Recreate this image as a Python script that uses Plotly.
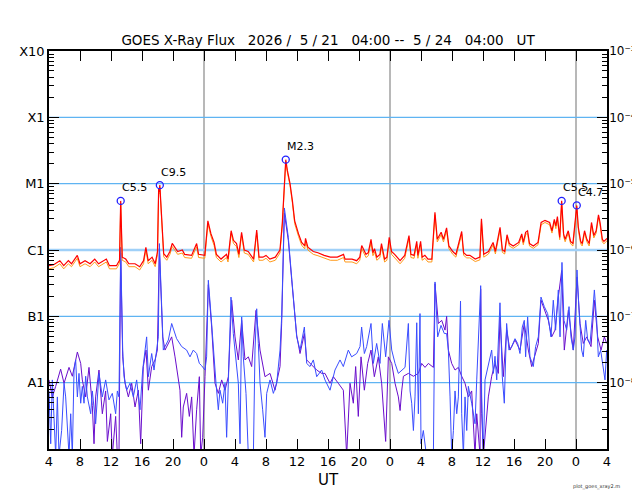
import math
import plotly.graph_objects as go

# GOES X-ray flux, 2026/5/21 04:00 -- 5/24 04:00 UT, x = hours from start

# long channel (1-8 A): primary (red) and secondary (orange), same sample hours
red_hours = [0.0, 0.6, 1.4, 1.9, 2.5, 2.9, 3.65, 4.0, 4.65, 5.3,
             5.9, 6.4, 7.4, 7.8, 8.7, 9.1, 9.25, 9.45, 9.9, 10.3,
             11.1, 11.7, 12.2, 12.5, 12.8, 13.3, 13.7, 14.0, 14.15, 14.2,
             14.3, 14.6, 14.8, 15.2, 15.6, 15.9, 16.2, 16.6, 17.2, 17.5,
             18.4, 19.05, 19.3, 20.1, 20.5, 20.9, 21.3, 21.6, 22.2, 22.5,
             22.9, 23.1, 23.5, 23.8, 24.2, 24.5, 24.85, 25.2, 25.7, 26.4,
             26.8, 27.1, 27.6, 28.0, 28.5, 29.2, 29.8, 30.1, 30.55, 30.75,
             31.1, 31.4, 31.7, 32.2, 32.6, 33.0, 33.1, 33.4, 34.1, 34.7,
             35.5, 36.3, 37.2, 38.0, 38.2, 39.1, 39.7, 40.1, 40.35, 40.9,
             41.2, 41.55, 41.8, 42.0, 42.3, 42.7, 42.9, 43.3, 43.6, 43.9,
             44.2, 44.6, 45.3, 45.9, 46.45, 46.7, 47.1, 47.45, 47.6, 47.95,
             48.15, 48.5, 48.9, 49.4, 49.8, 50.1, 50.6, 50.9, 51.3, 51.6,
             52.1, 52.5, 53.25, 53.5, 53.9, 54.3, 55.0, 55.6, 55.8, 56.1,
             56.7, 57.3, 57.6, 58.2, 58.5, 58.8, 59.1, 59.4, 59.9, 60.6,
             61.0, 61.2, 61.5, 61.75, 62.0, 62.5, 63.1, 63.5, 64.0, 64.6,
             64.9, 65.2, 65.4, 65.6, 65.9, 66.15, 66.4, 66.6, 67.0, 67.3,
             67.6, 68.1, 68.3, 68.6, 68.8, 69.1, 69.4, 69.7, 70.0, 70.3,
             70.6, 70.9, 71.1, 71.4, 71.6, 72.0]
red_flux = [5.8e-7, 6.0e-7, 6.9e-7, 5.8e-7, 6.9e-7, 6.2e-7, 8.3e-7, 6.2e-7, 6.9e-7, 6.2e-7,
            7.3e-7, 6.2e-7, 7.3e-7, 5.8e-7, 5.8e-7, 7.0e-7, 5.5e-6, 7.8e-7, 7.3e-7, 6.2e-7,
            6.2e-7, 5.6e-7, 6.9e-7, 1.1e-6, 6.9e-7, 7.8e-7, 6.2e-7, 9.5e-7, 8.5e-6, 7.5e-6,
            9.5e-6, 1.8e-6, 8.8e-7, 7.8e-7, 9.5e-7, 1.26e-6, 1.1e-6, 9.5e-7, 1.0e-6, 8.6e-7,
            8.3e-7, 1.25e-6, 8.6e-7, 8.3e-7, 2.75e-6, 1.75e-6, 1.3e-6, 8.6e-7, 7.3e-7, 7.8e-7,
            8.6e-7, 7.3e-7, 1.95e-6, 1.4e-6, 1.25e-6, 8.6e-7, 1.85e-6, 1.0e-6, 9.5e-7, 7.3e-7,
            2.0e-6, 7.8e-7, 7.8e-7, 8.3e-7, 7.3e-7, 7.8e-7, 1.0e-6, 2.5e-6, 2.3e-5, 1.6e-5,
            1.0e-5, 5.6e-6, 2.75e-6, 1.75e-6, 1.3e-6, 1.15e-6, 1.5e-6, 1.1e-6, 9.5e-7, 9.1e-7,
            8.3e-7, 7.8e-7, 7.8e-7, 8.6e-7, 7.3e-7, 7.3e-7, 6.9e-7, 7.8e-7, 1.17e-6, 8.6e-7,
            9.1e-7, 1.45e-6, 9.1e-7, 1.05e-6, 7.8e-7, 8.6e-7, 1.25e-6, 7.3e-7, 7.8e-7, 1.55e-6,
            9.5e-7, 8.6e-7, 6.9e-7, 8.3e-7, 1.65e-6, 8.6e-7, 8.3e-7, 1.35e-6, 8.3e-7, 1.35e-6,
            7.8e-7, 8.3e-7, 7.3e-7, 7.3e-7, 3.7e-6, 1.45e-6, 1.85e-6, 1.45e-6, 2.15e-6, 1.15e-6,
            9.5e-7, 8.6e-7, 1.9e-6, 9.1e-7, 8.3e-7, 8.3e-7, 7.3e-7, 7.8e-7, 2.95e-6, 8.6e-7,
            9.5e-7, 1.3e-6, 9.5e-7, 2.2e-6, 1.0e-6, 9.5e-7, 1.7e-6, 1.25e-6, 1.15e-6, 1.3e-6,
            1.75e-6, 1.3e-6, 1.85e-6, 1.95e-6, 1.25e-6, 1.15e-6, 1.3e-6, 2.6e-6, 2.8e-6, 2.6e-6,
            1.95e-6, 2.9e-6, 2.3e-6, 3.2e-6, 1.55e-6, 5.5e-6, 1.75e-6, 1.45e-6, 1.95e-6, 1.35e-6,
            1.25e-6, 4.7e-6, 2.2e-6, 1.35e-6, 1.25e-6, 1.95e-6, 1.45e-6, 1.25e-6, 2.6e-6, 1.65e-6,
            1.95e-6, 3.4e-6, 2.6e-6, 1.45e-6, 1.35e-6, 1.5e-6]
orange_flux = [5.2e-7, 5.4e-7, 6.2e-7, 5.2e-7, 6.2e-7, 5.6e-7, 7.5e-7, 5.6e-7, 6.2e-7, 5.6e-7,
               6.6e-7, 5.6e-7, 6.6e-7, 5.2e-7, 5.2e-7, 6.3e-7, 5.1e-6, 7.0e-7, 6.6e-7, 5.6e-7,
               5.6e-7, 5.0e-7, 6.2e-7, 1.0e-6, 6.2e-7, 7.0e-7, 5.6e-7, 8.6e-7, 7.9e-6, 7.0e-6,
               8.9e-6, 1.65e-6, 7.9e-7, 7.0e-7, 8.6e-7, 1.13e-6, 9.9e-7, 8.6e-7, 9.0e-7, 7.7e-7,
               7.5e-7, 1.12e-6, 7.7e-7, 7.5e-7, 2.5e-6, 1.6e-6, 1.17e-6, 7.7e-7, 6.6e-7, 7.0e-7,
               7.7e-7, 6.6e-7, 1.78e-6, 1.26e-6, 1.12e-6, 7.7e-7, 1.68e-6, 9.0e-7, 8.6e-7, 6.6e-7,
               1.82e-6, 7.0e-7, 7.0e-7, 7.5e-7, 6.6e-7, 7.0e-7, 9.0e-7, 2.3e-6, 2.15e-5, 1.5e-5,
               9.4e-6, 5.2e-6, 2.5e-6, 1.6e-6, 1.18e-6, 1.04e-6, 1.36e-6, 1.0e-6, 8.6e-7, 8.2e-7,
               7.5e-7, 7.0e-7, 7.0e-7, 7.7e-7, 6.6e-7, 6.6e-7, 6.2e-7, 7.0e-7, 1.05e-6, 7.7e-7,
               8.2e-7, 1.3e-6, 8.2e-7, 9.4e-7, 7.0e-7, 7.7e-7, 1.12e-6, 6.6e-7, 7.0e-7, 1.4e-6,
               8.6e-7, 7.7e-7, 6.2e-7, 7.5e-7, 1.5e-6, 7.7e-7, 7.5e-7, 1.22e-6, 7.5e-7, 1.22e-6,
               7.0e-7, 7.5e-7, 6.6e-7, 6.6e-7, 3.4e-6, 1.32e-6, 1.7e-6, 1.32e-6, 1.96e-6, 1.05e-6,
               8.6e-7, 7.8e-7, 1.74e-6, 8.3e-7, 7.6e-7, 7.6e-7, 6.7e-7, 7.1e-7, 2.7e-6, 7.8e-7,
               8.7e-7, 1.19e-6, 8.7e-7, 2.0e-6, 9.2e-7, 8.7e-7, 1.56e-6, 1.15e-6, 1.06e-6, 1.2e-6,
               1.6e-6, 1.2e-6, 1.7e-6, 1.8e-6, 1.15e-6, 1.06e-6, 1.2e-6, 2.4e-6, 2.6e-6, 2.4e-6,
               1.8e-6, 2.7e-6, 2.1e-6, 2.95e-6, 1.43e-6, 5.1e-6, 1.6e-6, 1.33e-6, 1.8e-6, 1.24e-6,
               1.15e-6, 4.35e-6, 2.0e-6, 1.24e-6, 1.15e-6, 1.8e-6, 1.33e-6, 1.15e-6, 2.4e-6, 1.52e-6,
               1.8e-6, 3.1e-6, 2.4e-6, 1.33e-6, 1.24e-6, 1.38e-6]

# short channel (0.5-4 A), primary (blue); 8e-10 = below the bottom of the plot
blue_hours = [0.0, 0.22, 0.43, 0.65, 0.86, 1.08, 1.29, 1.63, 1.94, 2.15,
              2.37, 2.58, 2.8, 3.01, 3.23, 3.44, 3.66, 3.87, 4.09, 4.3,
              4.52, 4.73, 4.95, 5.38, 5.59, 5.81, 6.02, 6.45, 6.67, 6.88,
              7.31, 7.74, 8.17, 8.6, 8.82, 9.03, 9.25, 9.51, 9.68, 10.02,
              10.45, 10.88, 11.31, 11.74, 12.09, 12.39, 12.6, 12.82, 13.25, 13.55,
              13.89, 14.11, 14.24, 14.54, 14.75, 14.97, 15.4, 15.83, 16.04, 16.47,
              17.12, 17.76, 18.19, 18.62, 19.05, 19.4, 19.7, 20.13, 20.34, 20.56,
              20.86, 21.2, 21.55, 21.85, 22.06, 22.41, 22.71, 22.92, 23.27, 23.48,
              23.78, 24.13, 24.43, 24.65, 24.86, 25.07, 25.42, 25.72, 26.02, 26.37,
              26.58, 26.8, 27.01, 27.23, 27.57, 27.87, 28.09, 28.52, 28.95, 29.38,
              29.81, 30.02, 30.37, 30.88, 31.31, 31.65, 31.96, 32.39, 32.95, 33.25,
              33.68, 34.11, 34.54, 35.18, 35.61, 36.26, 36.9, 37.55, 37.98, 38.62,
              39.05, 39.7, 40.13, 40.34, 40.69, 40.99, 41.55, 41.85, 42.28, 42.71,
              43.01, 43.44, 43.87, 44.22, 44.65, 45.08, 45.51, 45.94, 46.37, 46.59,
              46.8, 47.02, 47.23, 47.45, 47.66, 47.87, 48.0, 48.3, 48.7, 49.2,
              49.6, 49.81, 50.15, 50.58, 51.01, 51.3, 51.53, 51.75, 51.96, 52.18,
              52.39, 52.61, 52.82, 53.1, 53.25, 53.47, 53.68, 53.9, 54.11, 54.54,
              54.97, 55.19, 55.7, 55.83, 56.05, 56.26, 56.69, 57.12, 57.34, 57.55,
              57.77, 57.98, 58.19, 58.49, 58.75, 59.05, 59.35, 59.7, 60.13, 60.47,
              60.77, 61.07, 61.33, 61.5, 61.76, 62.06, 62.49, 62.79, 63.14, 63.48,
              63.91, 64.34, 64.77, 65.07, 65.37, 65.72, 65.94, 66.19, 66.45, 66.8,
              67.1, 67.35, 67.65, 67.87, 68.13, 68.39, 68.73, 68.94, 69.25, 69.51,
              69.81, 70.11, 70.37, 70.67, 70.88, 71.18, 71.4, 71.74, 71.96]
blue_flux = [7.5e-9, 1.2e-9, 1.1e-8, 3.4e-9, 8e-10, 6.1e-9, 8e-10, 1.9e-9, 9.8e-9, 6.1e-9,
             2.4e-9, 8e-10, 3.4e-9, 8e-10, 1.55e-8, 2.2e-8, 6.1e-9, 1.38e-8, 4.9e-9, 8.8e-9,
             4.9e-9, 1.25e-8, 6.1e-9, 3.4e-9, 7.5e-9, 3.8e-9, 2.4e-9, 1.38e-8, 8.8e-9, 6.1e-9,
             1.1e-8, 5.5e-9, 6.9e-9, 3.4e-9, 7.5e-9, 6.1e-9, 1.1e-6, 3.1e-8, 1.23e-8, 7.7e-9,
             9.8e-9, 6.1e-9, 1.1e-8, 3.9e-9, 1.55e-8, 3.1e-8, 4.9e-8, 1.23e-8, 2.75e-8, 1.55e-8,
             3.1e-8, 4.9e-8, 1.25e-6, 9.8e-8, 3.1e-8, 3.5e-8, 4.4e-8, 7.8e-8, 6.5e-8, 4.6e-8,
             3.5e-8, 3.1e-8, 2.45e-8, 3.1e-8, 2.75e-8, 1.95e-8, 1.8e-8, 1.55e-8, 2.45e-8, 3.5e-7,
             1.23e-7, 3.1e-8, 9.8e-9, 3.9e-9, 7.7e-9, 4.9e-9, 9.8e-9, 1.5e-9, 3.9e-8, 1.95e-7,
             5.5e-8, 2.2e-8, 9.8e-9, 1.2e-9, 9.8e-8, 2.45e-8, 6.9e-9, 8e-10, 8e-10, 8e-10,
             3.1e-8, 1.3e-7, 3.9e-8, 9.8e-9, 3.9e-9, 1.5e-9, 6.9e-9, 1.1e-8, 6.9e-9, 9.8e-9,
             3.1e-8, 9.8e-8, 4.3e-6, 1.55e-6, 3.9e-7, 1.23e-7, 4.9e-8, 3.1e-8, 6.9e-8, 1.95e-8,
             1.75e-8, 2.2e-8, 1.23e-8, 1.55e-8, 1.1e-8, 7.7e-9, 1.55e-8, 2.2e-8, 1.75e-8, 3.1e-8,
             2.45e-8, 2.75e-8, 3.5e-8, 6.9e-8, 2.75e-8, 3.5e-8, 7.8e-8, 1.95e-8, 3.9e-8, 1.95e-8,
             7.8e-8, 2.45e-8, 8.7e-8, 3.1e-8, 1.95e-8, 1.38e-8, 1.55e-8, 1.7e-8, 7.8e-8, 7.5e-9,
             4.9e-9, 1.9e-9, 6.1e-9, 8e-8, 3.4e-9, 1.1e-7, 1.2e-9, 1.9e-9, 8e-10, 8e-10,
             8e-10, 3.3e-7, 4.9e-8, 7.3e-8, 5.5e-8, 5.5e-8, 3.1e-8, 6.1e-9, 8e-10, 1.9e-9,
             7.5e-9, 3.4e-9, 6.1e-9, 1.7e-7, 3.4e-9, 8e-10, 6.1e-9, 1.9e-9, 8.8e-9, 4.9e-9,
             2.4e-9, 1.1e-8, 2.9e-7, 6.1e-9, 8e-10, 1.1e-8, 1.95e-8, 3.1e-8, 1.38e-8, 2.5e-8,
             1.1e-8, 3.8e-8, 1.6e-7, 1.23e-8, 4.9e-9, 7.8e-8, 3.1e-8, 3.5e-8, 4.6e-8, 3.9e-8,
             2.75e-8, 6.9e-8, 8.7e-8, 2.45e-8, 9.8e-8, 2.45e-8, 1.75e-8, 3.5e-8, 4.9e-8, 1.95e-7,
             1.4e-7, 1.1e-7, 4.9e-8, 1.75e-7, 6.2e-8, 2.5e-7, 4.9e-8, 6.5e-7, 8.7e-8, 6.2e-8,
             1.4e-7, 4.9e-8, 3.1e-8, 4.9e-8, 5.0e-7, 1.23e-7, 3.1e-8, 2.45e-8, 8.7e-8, 4.4e-8,
             3.9e-8, 9.8e-8, 2.5e-7, 8.7e-8, 2.45e-8, 3.1e-8, 1.95e-8, 1.1e-8, 3.1e-8]

# short channel, secondary (purple)
purple_hours = [0.0, 0.43, 0.86, 1.5, 1.94, 2.58, 3.01, 3.66, 4.09, 4.3,
                4.73, 5.16, 5.59, 5.81, 6.02, 6.45, 6.88, 7.31, 7.53, 7.96,
                8.17, 8.6, 8.82, 9.03, 9.25, 9.51, 9.81, 10.24, 10.67, 11.1,
                11.53, 11.83, 12.17, 12.52, 12.82, 13.25, 13.68, 13.98, 14.24, 14.67,
                14.97, 15.4, 15.83, 16.26, 16.56, 16.9, 17.12, 17.33, 17.76, 18.11,
                18.41, 18.71, 19.05, 19.4, 19.57, 19.83, 20.13, 20.56, 20.99, 21.42,
                21.85, 22.28, 22.71, 23.14, 23.57, 24.0, 24.43, 24.86, 25.29, 25.72,
                26.15, 26.71, 27.23, 27.87, 28.52, 29.16, 29.81, 30.02, 30.37, 30.88,
                31.31, 31.65, 31.96, 32.39, 32.95, 33.25, 33.68, 34.11, 34.54, 35.18,
                35.61, 36.26, 36.69, 37.33, 37.98, 38.41, 38.84, 39.27, 39.57, 39.91,
                40.26, 40.69, 41.12, 41.55, 41.98, 42.49, 42.92, 43.44, 43.79, 44.22,
                44.65, 45.08, 45.3, 45.51, 45.73, 46.37, 47.02, 47.66, 48.09, 48.52,
                48.95, 49.6, 49.81, 50.24, 50.67, 51.1, 51.31, 51.53, 51.96, 52.39,
                52.82, 53.25, 53.68, 54.11, 54.54, 54.97, 55.19, 55.62, 55.7, 55.83,
                56.05, 56.69, 57.12, 57.55, 57.98, 58.19, 58.62, 59.05, 59.48, 60.13,
                60.77, 61.33, 61.85, 62.28, 62.71, 63.14, 63.48, 64.0, 64.43, 64.86,
                65.29, 65.72, 66.15, 66.49, 67.01, 67.65, 68.13, 68.52, 68.94, 69.38,
                69.94, 70.37, 70.8, 71.23, 71.66, 71.96]
purple_flux = [1.1e-8, 6.1e-9, 8.8e-9, 1.6e-8, 9.8e-9, 1.7e-8, 1.25e-8, 2.9e-8, 1.95e-8, 1.1e-8,
               6.1e-9, 1.7e-8, 4.5e-9, 1.2e-9, 6.1e-9, 1.55e-8, 3.4e-9, 7.5e-9, 1.3e-9, 3.4e-9,
               8e-10, 3.1e-9, 8e-10, 8e-10, 9.0e-7, 2.45e-8, 9.8e-9, 6.1e-9, 9.8e-9, 4.3e-9,
               7.7e-9, 1.2e-9, 1.75e-8, 3.1e-8, 7.7e-9, 1.75e-8, 2.2e-8, 3.1e-8, 1.05e-6, 4.9e-8,
               3.1e-8, 3.9e-8, 4.9e-8, 2.45e-8, 1.38e-8, 7.7e-9, 1.5e-9, 4.3e-9, 6.9e-9, 3.1e-9,
               6.1e-9, 8e-10, 3.9e-9, 1.23e-8, 8e-10, 1.5e-9, 1.23e-8, 3.0e-7, 6.9e-8, 9.8e-9,
               6.9e-9, 1.1e-8, 7.7e-9, 1.23e-8, 1.75e-7, 4.9e-8, 2.2e-8, 8.7e-8, 2.2e-8, 2.45e-8,
               1.75e-8, 1.23e-7, 3.1e-8, 1.23e-8, 1.38e-8, 7.7e-9, 1.75e-8, 7.8e-8, 3.6e-6, 1.4e-6,
               3.6e-7, 1.15e-7, 5.2e-8, 2.75e-8, 5.5e-8, 2.2e-8, 1.95e-8, 1.75e-8, 1.55e-8, 1.38e-8,
               1.38e-8, 9.8e-9, 1.23e-8, 9.8e-9, 7.7e-9, 8e-10, 9.8e-9, 4.9e-9, 1.75e-8, 3.1e-9,
               2.45e-8, 7.7e-9, 1.95e-8, 3.1e-8, 1.23e-8, 2.45e-8, 9.8e-9, 1.3e-9, 2.45e-8, 1.95e-8,
               9.8e-9, 6.1e-9, 3.8e-9, 7.5e-9, 1.25e-8, 1.38e-8, 1.25e-8, 1.38e-8, 1.95e-8, 1.7e-8,
               1.95e-8, 1.7e-8, 3.1e-7, 7.8e-8, 8.7e-8, 6.2e-8, 1.0e-7, 3.1e-8, 1.95e-8, 1.55e-8,
               1.7e-8, 1.25e-8, 9.8e-9, 6.1e-9, 7.5e-9, 8e-10, 3.4e-9, 8e-10, 2.6e-7, 3.4e-9,
               8e-10, 6.1e-9, 1.25e-8, 1.95e-8, 1.38e-8, 9.8e-8, 1.23e-8, 6.2e-8, 3.1e-8, 4.4e-8,
               3.1e-8, 7.8e-8, 3.1e-8, 1.75e-8, 2.75e-8, 3.9e-8, 1.75e-7, 1.23e-7, 8.7e-8, 4.9e-8,
               6.2e-8, 1.95e-7, 4.9e-7, 3.1e-8, 1.23e-7, 3.1e-8, 3.9e-7, 7.8e-8, 3.9e-8, 4.9e-8,
               3.5e-8, 1.75e-7, 4.9e-8, 3.1e-8, 4.9e-8, 3.9e-8]

# flare peaks marked on the plot
flare_hours = [9.25, 14.3, 30.55, 66.15, 68.1]
flare_flux = [5.5e-6, 9.5e-6, 2.3e-5, 5.5e-6, 4.7e-6]
flare_labels = ["C5.5", "C9.5", "M2.3", "C5.5", "C4.7"]

# axis labels
x_tick_hours = list(range(0, 73, 4))
x_tick_text = [str((4 + h) % 24) for h in x_tick_hours]
y_tick_vals = [1e-8, 1e-7, 1e-6, 1e-5, 1e-4, 1e-3]
class_labels = ["A1", "B1", "C1", "M1", "X1", "X10"]
power_labels = ["10\u207b\u2078", "10\u207b\u2077", "10\u207b\u2076",
                "10\u207b\u2075", "10\u207b\u2074", "10\u207b\u00b3"]
midnight_hours = [20, 44, 68]

assert len(red_hours) == len(red_flux) == len(orange_flux)
assert len(blue_hours) == len(blue_flux)
assert len(purple_hours) == len(purple_flux)

FONT = "DejaVu Sans"
nb = "\u00a0"

fig = go.Figure()

fig.add_trace(go.Scatter(x=purple_hours, y=purple_flux, mode="lines",
                         line=dict(color="#6a0dcc", width=1), showlegend=False))
fig.add_trace(go.Scatter(x=blue_hours, y=blue_flux, mode="lines",
                         line=dict(color="#3a4dff", width=1), showlegend=False))
fig.add_trace(go.Scatter(x=red_hours, y=orange_flux, mode="lines",
                         line=dict(color="#ff9a1a", width=1), showlegend=False))
fig.add_trace(go.Scatter(x=red_hours, y=red_flux, mode="lines",
                         line=dict(color="#ff0000", width=1.2), showlegend=False))
fig.add_trace(go.Scatter(x=flare_hours, y=flare_flux, mode="markers",
                         marker=dict(symbol="circle-open", size=7, color="#2020ff",
                                     line=dict(width=1.3)),
                         showlegend=False))
# invisible point so the right-hand axis is drawn
fig.add_trace(go.Scatter(x=[0], y=[1e-9], yaxis="y2", mode="markers",
                         marker=dict(opacity=0), showlegend=False, hoverinfo="skip"))

# annotations on a log axis take log10 positions
for h, f, lab in zip(flare_hours, flare_flux, flare_labels):
    fig.add_annotation(x=h, y=math.log10(f), text=lab, showarrow=False,
                       xanchor="left", yanchor="middle", xshift=-1, yshift=13,
                       font=dict(family=FONT, size=11, color="black"))

shapes = []
for h in midnight_hours:
    shapes.append(dict(type="line", xref="x", yref="paper", x0=h, x1=h, y0=0, y1=1,
                       line=dict(color="#a0a0a0", width=1.5), layer="below"))
for v in y_tick_vals[:-1]:
    shapes.append(dict(type="line", xref="paper", yref="y", x0=0, x1=1, y0=v, y1=v,
                       line=dict(color="#5fb4f2" if v != 1e-6 else "#9fd0f8",
                                 width=1.2 if v != 1e-6 else 2.5), layer="below"))

# the page adds an 8 px body margin: the plot box sits at page x 49-607, y 51-449
fig.update_layout(
    width=640, height=500,
    margin=dict(l=41, r=41, t=43, b=59, autoexpand=False),
    paper_bgcolor="white", plot_bgcolor="white",
    font=dict(family=FONT, size=13, color="black"),
    title=dict(text=f"GOES X-Ray Flux{nb*3}2026{nb}/{nb*2}5{nb}/{nb}21{nb*3}04:00{nb}--{nb}{nb}5{nb}/{nb}24{nb*3}04:00{nb*3}UT",
               x=0.5, xanchor="center", y=0.936, yanchor="middle",
               font=dict(family=FONT, size=13.5)),
    shapes=shapes,
    xaxis=dict(range=[0, 72], tickvals=x_tick_hours, ticktext=x_tick_text,
               ticks="inside", ticklen=10, tickcolor="black", showgrid=False,
               showline=True, linecolor="black", linewidth=1.5, mirror="ticks",
               zeroline=False, tickfont=dict(size=13), automargin=False,
               title=dict(text="UT", standoff=6, font=dict(size=15))),
    yaxis=dict(type="log", range=[-9, -3], tickvals=y_tick_vals, ticktext=class_labels,
               ticks="inside", ticklen=10, tickcolor="black", showgrid=False,
               showline=True, linecolor="black", linewidth=1.5, zeroline=False,
               minor=dict(ticks="inside", ticklen=5, tickcolor="black", dtick="D1",
                          showgrid=False),
               tickfont=dict(size=13), automargin=False),
    yaxis2=dict(type="log", range=[-9, -3], overlaying="y", side="right",
                tickvals=y_tick_vals, ticktext=power_labels,
                ticks="inside", ticklen=10, tickcolor="black", showgrid=False,
                showline=True, linecolor="black", linewidth=1.5, zeroline=False,
                minor=dict(ticks="inside", ticklen=5, tickcolor="black", dtick="D1",
                           showgrid=False),
                ticklabelstandoff=-2,
                tickfont=dict(size=12), automargin=False),
)

fig.add_annotation(x=0.982, y=-0.093, xref="paper", yref="paper", text="plot_goes_xray2.m",
                   showarrow=False, xanchor="center", yanchor="middle",
                   font=dict(family=FONT, size=5, color="#333333"))

fig.write_html("out.html")
